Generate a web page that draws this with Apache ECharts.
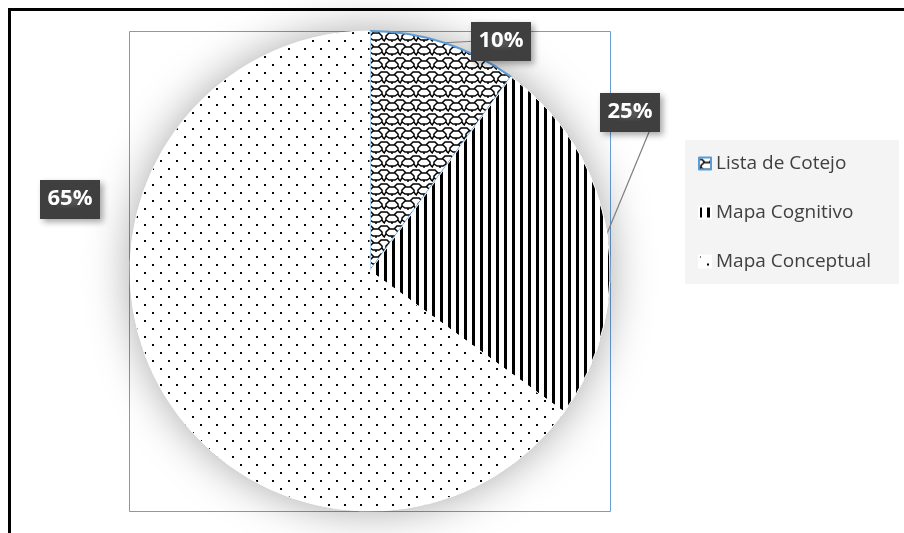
<!DOCTYPE html>
<html>
<head>
<meta charset="utf-8">
<script src="https://cdn.jsdelivr.net/npm/echarts@6/dist/echarts.min.js"></script>
<style>
html,body{margin:0;padding:0;background:#fff;}
#main{width:904px;height:533px;}
</style>
</head>
<body>
<div id="main"></div>
<script>
// ---- data ----
const categories = ['Lista de Cotejo', 'Mapa Cognitivo', 'Mapa Conceptual'];
const values = [10, 25, 65];

// ---- pattern tiles (style only) ----
function tile(w, h, draw) {
  const c = document.createElement('canvas');
  c.width = w; c.height = h;
  const ctx = c.getContext('2d');
  ctx.fillStyle = '#ffffff';
  ctx.fillRect(0, 0, w, h);
  draw(ctx);
  return c;
}
const shingle = tile(16, 14, function (ctx) {
  ctx.strokeStyle = '#000';
  ctx.lineWidth = 1.5;
  ctx.beginPath();
  ctx.moveTo(0, 2); ctx.lineTo(3, 2); ctx.lineTo(6, 5); ctx.lineTo(10, 5); ctx.lineTo(13, 2); ctx.lineTo(16, 2);
  ctx.moveTo(5, 5); ctx.lineTo(2, 8); ctx.lineTo(2, 10); ctx.lineTo(0, 13);
  ctx.moveTo(11, 5); ctx.lineTo(14, 8); ctx.lineTo(14, 10); ctx.lineTo(16, 13);
  ctx.moveTo(2, 10); ctx.lineTo(5, 12); ctx.lineTo(11, 12); ctx.lineTo(14, 10);
  ctx.moveTo(8, 12); ctx.lineTo(8, 14);
  ctx.moveTo(0, 13); ctx.lineTo(0, 14);
  ctx.stroke();
});
const stripes = tile(8, 8, function (ctx) {
  ctx.fillStyle = '#000';
  ctx.fillRect(0, 0, 3, 8);
});
const dots = tile(16, 16, function (ctx) {
  ctx.fillStyle = '#000';
  ctx.fillRect(0, 0, 2, 2);
  ctx.fillRect(8, 8, 2, 2);
});
const darkBox = (function () {
  const c = document.createElement('canvas');
  c.width = 6; c.height = 6;
  const ctx = c.getContext('2d');
  ctx.fillStyle = '#3f3f3f';
  ctx.fillRect(0, 0, 6, 6);
  ctx.fillStyle = '#555555';
  ctx.fillRect(2, 2, 2, 2);
  return c;
})();

const patterns = [shingle, stripes, dots];
const borders = [
  { borderColor: '#5b9bd5', borderWidth: 2 },
  { borderColor: '#ffffff', borderWidth: 1 },
  { borderColor: '#ffffff', borderWidth: 1 }
];
const labelSpots = [[501, 41], [630, 112], [70, 199]];

const chart = echarts.init(document.getElementById('main'));
chart.setOption({
  animation: false,
  backgroundColor: '#ffffff',
  graphic: [
    { type: 'line', shape: { x1: 8, y1: 9.5, x2: 904, y2: 9.5 }, style: { stroke: '#000', lineWidth: 3 }, z: 100 },
    { type: 'line', shape: { x1: 9.5, y1: 8, x2: 9.5, y2: 533 }, style: { stroke: '#000', lineWidth: 3 }, z: 100 },
    { type: 'rect', shape: { x: 129.5, y: 31.5, width: 481, height: 480 }, style: { fill: null, stroke: '#6a9fd8', lineWidth: 1 }, z: -1 }
  ],
  legend: {
    orient: 'vertical',
    left: 685,
    top: 140,
    data: categories,
    icon: 'rect',
    itemWidth: 12,
    itemHeight: 12,
    itemGap: 30,
    padding: [14, 28, 13, 13],
    backgroundColor: '#f4f4f4',
    textStyle: { fontFamily: 'Open Sans', fontSize: 19, color: '#404040' }
  },
  series: [
    {
      type: 'pie',
      silent: true,
      center: [370, 271],
      radius: 240,
      z: 1,
      label: { show: false },
      labelLine: { show: false },
      itemStyle: { color: '#ffffff', shadowBlur: 45, shadowColor: 'rgba(0,0,0,0.35)' },
      data: [{ value: 1, name: '__shadow' }]
    },
    {
      type: 'pie',
      center: [370, 271],
      radius: 240,
      startAngle: 90,
      clockwise: true,
      z: 2,
      data: categories.map(function (name, i) {
        return {
          name: name,
          value: values[i],
          itemStyle: Object.assign({ color: { image: patterns[i], repeat: 'repeat' } }, borders[i]),
          labelLine: { show: i !== 2 }
        };
      }),
      label: {
        show: true,
        position: 'outside',
        formatter: function (p) { return p.value + '%'; },
        color: '#ffffff',
        fontFamily: 'Open Sans',
        fontWeight: 'bold',
        fontSize: 22,
        backgroundColor: { image: darkBox, repeat: 'repeat' },
        padding: [9, 8, 8, 8],
        shadowBlur: 6,
        shadowOffsetX: 3,
        shadowOffsetY: 3,
        shadowColor: 'rgba(0,0,0,0.35)'
      },
      labelLine: { lineStyle: { color: '#7f7f7f', width: 1.2 }, length: 0, length2: 0, minTurnAngle: 0 },
      labelLayout: function (params) {
        const s = labelSpots[params.dataIndex];
        return { x: s[0], y: s[1], align: 'center', verticalAlign: 'middle' };
      }
    }
  ]
});
</script>
</body>
</html>
